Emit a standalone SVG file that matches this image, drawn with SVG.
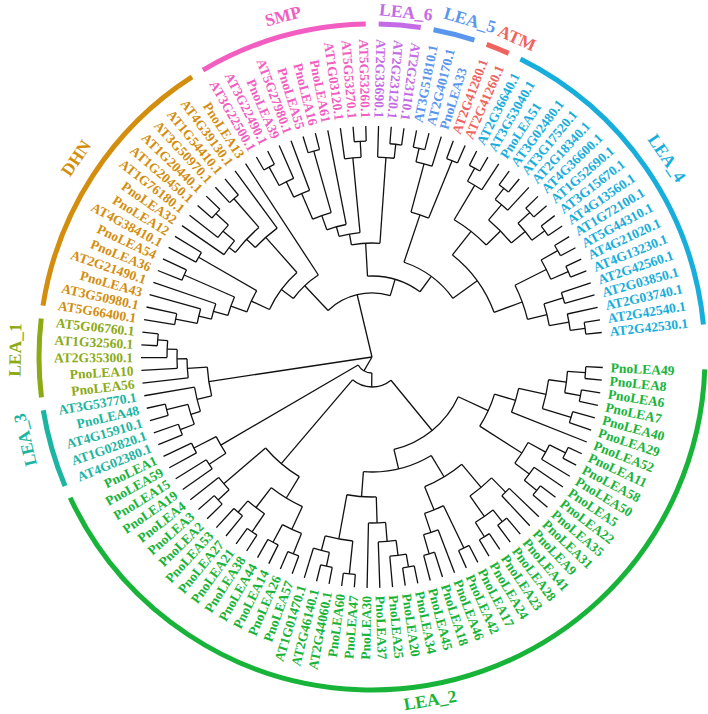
<svg xmlns="http://www.w3.org/2000/svg" width="708" height="714" viewBox="0 0 708 714">
<style>
.t line,.t circle{fill:none;stroke:#111;stroke-width:1.3;transform:rotate(calc(var(--a)*3.165deg))}
.k circle{fill:none;stroke-width:5;transform:rotate(calc(var(--a)*3.165deg))}
.lb text{font:bold 13.5px "Liberation Serif",serif;dominant-baseline:central;transform:rotate(calc(var(--a)*3.165deg))}
.lb text.f{text-anchor:end;transform:rotate(calc(var(--a)*3.165deg + 180deg))}
.cl{font:bold 17.5px "Liberation Serif",serif;text-anchor:middle;dominant-baseline:central}
</style>
<rect width="708" height="714" fill="#fff"/>
<g id="tree" class="t" transform="translate(372 357) rotate(2.6)">
<line x1="0" x2="64" style="--a:80.26"/><line x1="0" x2="165" style="--a:53.35"/><line x1="0" x2="16" style="--a:37.15"/>
<circle r="16" style="--a:27.79" stroke-dasharray="18.71 999" pathLength="113.744"/><line x1="16" x2="30" style="--a:27.79"/><line x1="16" x2="175" style="--a:46.5"/>
<circle r="30" style="--a:15.2" stroke-dasharray="25.18 999" pathLength="113.744"/><line x1="30" x2="95" style="--a:15.2"/><line x1="30" x2="140" style="--a:40.38"/>
<circle r="95" style="--a:7" stroke-dasharray="16.39 999" pathLength="113.744"/><line x1="95" x2="128" style="--a:7"/><line x1="95" x2="115" style="--a:23.39"/>
<circle r="128" style="--a:4.5" stroke-dasharray="5 999" pathLength="113.744"/><line x1="128" x2="150" style="--a:4.5"/><line x1="128" x2="178" style="--a:9.5"/>
<circle r="150" style="--a:3" stroke-dasharray="3 999" pathLength="113.744"/><line x1="150" x2="178" style="--a:3"/><line x1="150" x2="231" style="--a:6"/>
<circle r="178" style="--a:1.5" stroke-dasharray="3 999" pathLength="113.744"/><line x1="178" x2="196" style="--a:1.5"/><line x1="178" x2="208" style="--a:4.5"/>
<circle r="196" style="--a:0.5" stroke-dasharray="2 999" pathLength="113.744"/><line x1="196" x2="214" style="--a:0.5"/><line x1="196" x2="212" style="--a:2.5"/>
<circle r="214" style="--a:0" stroke-dasharray="1 999" pathLength="113.744"/><line x1="214" x2="231" style="--a:0"/><line x1="214" x2="231" style="--a:1"/>
<circle r="212" style="--a:2" stroke-dasharray="1 999" pathLength="113.744"/><line x1="212" x2="231" style="--a:2"/><line x1="212" x2="231" style="--a:3"/>
<circle r="208" style="--a:4" stroke-dasharray="1 999" pathLength="113.744"/><line x1="208" x2="231" style="--a:4"/><line x1="208" x2="231" style="--a:5"/>
<circle r="178" style="--a:8.25" stroke-dasharray="2.5 999" pathLength="113.744"/><line x1="178" x2="198" style="--a:8.25"/><line x1="178" x2="196" style="--a:10.75"/>
<circle r="198" style="--a:7.5" stroke-dasharray="1.5 999" pathLength="113.744"/><line x1="198" x2="216" style="--a:7.5"/><line x1="198" x2="231" style="--a:9"/>
<circle r="216" style="--a:7" stroke-dasharray="1 999" pathLength="113.744"/><line x1="216" x2="231" style="--a:7"/><line x1="216" x2="231" style="--a:8"/>
<circle r="196" style="--a:10" stroke-dasharray="1.5 999" pathLength="113.744"/><line x1="196" x2="231" style="--a:10"/><line x1="196" x2="212" style="--a:11.5"/>
<circle r="212" style="--a:11" stroke-dasharray="1 999" pathLength="113.744"/><line x1="212" x2="231" style="--a:11"/><line x1="212" x2="231" style="--a:12"/>
<circle r="115" style="--a:17.81" stroke-dasharray="11.16 999" pathLength="113.744"/><line x1="115" x2="140" style="--a:17.81"/><line x1="115" x2="140" style="--a:28.97"/>
<circle r="140" style="--a:15" stroke-dasharray="5.63 999" pathLength="113.744"/><line x1="140" x2="170" style="--a:15"/><line x1="140" x2="165" style="--a:20.63"/>
<circle r="170" style="--a:13.5" stroke-dasharray="3 999" pathLength="113.744"/><line x1="170" x2="190" style="--a:13.5"/><line x1="170" x2="195" style="--a:16.5"/>
<circle r="190" style="--a:13" stroke-dasharray="1 999" pathLength="113.744"/><line x1="190" x2="231" style="--a:13"/><line x1="190" x2="231" style="--a:14"/>
<circle r="195" style="--a:15.5" stroke-dasharray="2 999" pathLength="113.744"/><line x1="195" x2="210" style="--a:15.5"/><line x1="195" x2="212" style="--a:17.5"/>
<circle r="210" style="--a:15" stroke-dasharray="1 999" pathLength="113.744"/><line x1="210" x2="231" style="--a:15"/><line x1="210" x2="231" style="--a:16"/>
<circle r="212" style="--a:17" stroke-dasharray="1 999" pathLength="113.744"/><line x1="212" x2="231" style="--a:17"/><line x1="212" x2="231" style="--a:18"/>
<circle r="165" style="--a:19.5" stroke-dasharray="2.25 999" pathLength="113.744"/><line x1="165" x2="212" style="--a:19.5"/><line x1="165" x2="185" style="--a:21.75"/>
<circle r="212" style="--a:19" stroke-dasharray="1 999" pathLength="113.744"/><line x1="212" x2="231" style="--a:19"/><line x1="212" x2="231" style="--a:20"/>
<circle r="185" style="--a:21" stroke-dasharray="1.5 999" pathLength="113.744"/><line x1="185" x2="231" style="--a:21"/><line x1="185" x2="205" style="--a:22.5"/>
<circle r="205" style="--a:22" stroke-dasharray="1 999" pathLength="113.744"/><line x1="205" x2="231" style="--a:22"/><line x1="205" x2="231" style="--a:23"/>
<circle r="140" style="--a:27.06" stroke-dasharray="3.82 999" pathLength="113.744"/><line x1="140" x2="166" style="--a:27.06"/><line x1="140" x2="185" style="--a:30.88"/>
<circle r="166" style="--a:26.13" stroke-dasharray="1.87 999" pathLength="113.744"/><line x1="166" x2="185" style="--a:26.13"/><line x1="166" x2="231" style="--a:28"/>
<circle r="185" style="--a:25.25" stroke-dasharray="1.75 999" pathLength="113.744"/><line x1="185" x2="200" style="--a:25.25"/><line x1="185" x2="231" style="--a:27"/>
<circle r="200" style="--a:24.5" stroke-dasharray="1.5 999" pathLength="113.744"/><line x1="200" x2="213" style="--a:24.5"/><line x1="200" x2="231" style="--a:26"/>
<circle r="213" style="--a:24" stroke-dasharray="1 999" pathLength="113.744"/><line x1="213" x2="231" style="--a:24"/><line x1="213" x2="231" style="--a:25"/>
<circle r="185" style="--a:29.5" stroke-dasharray="2.75 999" pathLength="113.744"/><line x1="185" x2="218" style="--a:29.5"/><line x1="185" x2="200" style="--a:32.25"/>
<circle r="218" style="--a:29" stroke-dasharray="1 999" pathLength="113.744"/><line x1="218" x2="231" style="--a:29"/><line x1="218" x2="231" style="--a:30"/>
<circle r="200" style="--a:31.5" stroke-dasharray="1.5 999" pathLength="113.744"/><line x1="200" x2="214" style="--a:31.5"/><line x1="200" x2="231" style="--a:33"/>
<circle r="214" style="--a:31" stroke-dasharray="1 999" pathLength="113.744"/><line x1="214" x2="231" style="--a:31"/><line x1="214" x2="231" style="--a:32"/>
<circle r="140" style="--a:37.5" stroke-dasharray="5.75 999" pathLength="113.744"/><line x1="140" x2="165" style="--a:37.5"/><line x1="140" x2="195" style="--a:43.25"/>
<circle r="165" style="--a:35.5" stroke-dasharray="4 999" pathLength="113.744"/><line x1="165" x2="190" style="--a:35.5"/><line x1="165" x2="190" style="--a:39.5"/>
<circle r="190" style="--a:34.5" stroke-dasharray="2 999" pathLength="113.744"/><line x1="190" x2="212" style="--a:34.5"/><line x1="190" x2="210" style="--a:36.5"/>
<circle r="212" style="--a:34" stroke-dasharray="1 999" pathLength="113.744"/><line x1="212" x2="231" style="--a:34"/><line x1="212" x2="231" style="--a:35"/>
<circle r="210" style="--a:36" stroke-dasharray="1 999" pathLength="113.744"/><line x1="210" x2="231" style="--a:36"/><line x1="210" x2="231" style="--a:37"/>
<circle r="190" style="--a:38.5" stroke-dasharray="2 999" pathLength="113.744"/><line x1="190" x2="212" style="--a:38.5"/><line x1="190" x2="205" style="--a:40.5"/>
<circle r="212" style="--a:38" stroke-dasharray="1 999" pathLength="113.744"/><line x1="212" x2="231" style="--a:38"/><line x1="212" x2="231" style="--a:39"/>
<circle r="205" style="--a:40" stroke-dasharray="1 999" pathLength="113.744"/><line x1="205" x2="231" style="--a:40"/><line x1="205" x2="231" style="--a:41"/>
<circle r="195" style="--a:42.5" stroke-dasharray="1.5 999" pathLength="113.744"/><line x1="195" x2="210" style="--a:42.5"/><line x1="195" x2="231" style="--a:44"/>
<circle r="210" style="--a:42" stroke-dasharray="1 999" pathLength="113.744"/><line x1="210" x2="231" style="--a:42"/><line x1="210" x2="231" style="--a:43"/>
<circle r="175" style="--a:45.5" stroke-dasharray="2 999" pathLength="113.744"/><line x1="175" x2="195" style="--a:45.5"/><line x1="175" x2="200" style="--a:47.5"/>
<circle r="195" style="--a:45" stroke-dasharray="1 999" pathLength="113.744"/><line x1="195" x2="231" style="--a:45"/><line x1="195" x2="231" style="--a:46"/>
<circle r="200" style="--a:47" stroke-dasharray="1 999" pathLength="113.744"/><line x1="200" x2="231" style="--a:47"/><line x1="200" x2="231" style="--a:48"/>
<circle r="165" style="--a:51.75" stroke-dasharray="3.19 999" pathLength="113.744"/><line x1="165" x2="180" style="--a:51.75"/><line x1="165" x2="185" style="--a:54.94"/>
<circle r="180" style="--a:50.5" stroke-dasharray="2.5 999" pathLength="113.744"/><line x1="180" x2="190" style="--a:50.5"/><line x1="180" x2="231" style="--a:53"/>
<circle r="190" style="--a:49.5" stroke-dasharray="2 999" pathLength="113.744"/><line x1="190" x2="205" style="--a:49.5"/><line x1="190" x2="212" style="--a:51.5"/>
<circle r="205" style="--a:49" stroke-dasharray="1 999" pathLength="113.744"/><line x1="205" x2="231" style="--a:49"/><line x1="205" x2="231" style="--a:50"/>
<circle r="212" style="--a:51" stroke-dasharray="1 999" pathLength="113.744"/><line x1="212" x2="231" style="--a:51"/><line x1="212" x2="231" style="--a:52"/>
<circle r="185" style="--a:54" stroke-dasharray="1.88 999" pathLength="113.744"/><line x1="185" x2="231" style="--a:54"/><line x1="185" x2="195" style="--a:55.88"/>
<circle r="195" style="--a:55" stroke-dasharray="1.75 999" pathLength="113.744"/><line x1="195" x2="231" style="--a:55"/><line x1="195" x2="205" style="--a:56.75"/>
<circle r="205" style="--a:56" stroke-dasharray="1.5 999" pathLength="113.744"/><line x1="205" x2="231" style="--a:56"/><line x1="205" x2="215" style="--a:57.5"/>
<circle r="215" style="--a:57" stroke-dasharray="1 999" pathLength="113.744"/><line x1="215" x2="231" style="--a:57"/><line x1="215" x2="231" style="--a:58"/>
<circle r="64" style="--a:70.8" stroke-dasharray="18.92 999" pathLength="113.744"/><line x1="64" x2="98" style="--a:70.8"/><line x1="64" x2="81" style="--a:89.72"/>
<circle r="98" style="--a:67.63" stroke-dasharray="6.37 999" pathLength="113.744"/><line x1="98" x2="113" style="--a:67.63"/><line x1="98" x2="231" style="--a:74"/>
<circle r="113" style="--a:63.91" stroke-dasharray="7.43 999" pathLength="113.744"/><line x1="113" x2="133" style="--a:63.91"/><line x1="113" x2="160" style="--a:71.34"/>
<circle r="133" style="--a:62.31" stroke-dasharray="3.19 999" pathLength="113.744"/><line x1="133" x2="150" style="--a:62.31"/><line x1="133" x2="200" style="--a:65.5"/>
<circle r="150" style="--a:61.13" stroke-dasharray="2.37 999" pathLength="113.744"/><line x1="150" x2="165" style="--a:61.13"/><line x1="150" x2="205" style="--a:63.5"/>
<circle r="165" style="--a:60.25" stroke-dasharray="1.75 999" pathLength="113.744"/><line x1="165" x2="178" style="--a:60.25"/><line x1="165" x2="231" style="--a:62"/>
<circle r="178" style="--a:59.5" stroke-dasharray="1.5 999" pathLength="113.744"/><line x1="178" x2="200" style="--a:59.5"/><line x1="178" x2="231" style="--a:61"/>
<circle r="200" style="--a:59" stroke-dasharray="1 999" pathLength="113.744"/><line x1="200" x2="231" style="--a:59"/><line x1="200" x2="231" style="--a:60"/>
<circle r="205" style="--a:63" stroke-dasharray="1 999" pathLength="113.744"/><line x1="205" x2="231" style="--a:63"/><line x1="205" x2="231" style="--a:64"/>
<circle r="200" style="--a:65" stroke-dasharray="1 999" pathLength="113.744"/><line x1="200" x2="231" style="--a:65"/><line x1="200" x2="231" style="--a:66"/>
<circle r="160" style="--a:69.69" stroke-dasharray="3.31 999" pathLength="113.744"/><line x1="160" x2="172" style="--a:69.69"/><line x1="160" x2="231" style="--a:73"/>
<circle r="172" style="--a:67.88" stroke-dasharray="3.62 999" pathLength="113.744"/><line x1="172" x2="180" style="--a:67.88"/><line x1="172" x2="210" style="--a:71.5"/>
<circle r="180" style="--a:67" stroke-dasharray="1.75 999" pathLength="113.744"/><line x1="180" x2="231" style="--a:67"/><line x1="180" x2="195" style="--a:68.75"/>
<circle r="195" style="--a:68" stroke-dasharray="1.5 999" pathLength="113.744"/><line x1="195" x2="231" style="--a:68"/><line x1="195" x2="212" style="--a:69.5"/>
<circle r="212" style="--a:69" stroke-dasharray="1 999" pathLength="113.744"/><line x1="212" x2="231" style="--a:69"/><line x1="212" x2="231" style="--a:70"/>
<circle r="210" style="--a:71" stroke-dasharray="1 999" pathLength="113.744"/><line x1="210" x2="231" style="--a:71"/><line x1="210" x2="231" style="--a:72"/>
<circle r="81" style="--a:83.48" stroke-dasharray="12.49 999" pathLength="113.744"/><line x1="81" x2="114" style="--a:83.48"/><line x1="81" x2="100" style="--a:95.97"/>
<circle r="114" style="--a:81.2" stroke-dasharray="4.55 999" pathLength="113.744"/><line x1="114" x2="125" style="--a:81.2"/><line x1="114" x2="200" style="--a:85.75"/>
<circle r="125" style="--a:79.66" stroke-dasharray="3.09 999" pathLength="113.744"/><line x1="125" x2="135" style="--a:79.66"/><line x1="125" x2="200" style="--a:82.75"/>
<circle r="135" style="--a:78.31" stroke-dasharray="2.69 999" pathLength="113.744"/><line x1="135" x2="150" style="--a:78.31"/><line x1="135" x2="231" style="--a:81"/>
<circle r="150" style="--a:77.13" stroke-dasharray="2.37 999" pathLength="113.744"/><line x1="150" x2="178" style="--a:77.13"/><line x1="150" x2="214" style="--a:79.5"/>
<circle r="178" style="--a:76.25" stroke-dasharray="1.75 999" pathLength="113.744"/><line x1="178" x2="195" style="--a:76.25"/><line x1="178" x2="231" style="--a:78"/>
<circle r="195" style="--a:75.5" stroke-dasharray="1.5 999" pathLength="113.744"/><line x1="195" x2="216" style="--a:75.5"/><line x1="195" x2="231" style="--a:77"/>
<circle r="216" style="--a:75" stroke-dasharray="1 999" pathLength="113.744"/><line x1="216" x2="231" style="--a:75"/><line x1="216" x2="231" style="--a:76"/>
<circle r="214" style="--a:79" stroke-dasharray="1 999" pathLength="113.744"/><line x1="214" x2="231" style="--a:79"/><line x1="214" x2="231" style="--a:80"/>
<circle r="200" style="--a:82" stroke-dasharray="1.5 999" pathLength="113.744"/><line x1="200" x2="231" style="--a:82"/><line x1="200" x2="216" style="--a:83.5"/>
<circle r="216" style="--a:83" stroke-dasharray="1 999" pathLength="113.744"/><line x1="216" x2="231" style="--a:83"/><line x1="216" x2="231" style="--a:84"/>
<circle r="200" style="--a:85" stroke-dasharray="1.5 999" pathLength="113.744"/><line x1="200" x2="231" style="--a:85"/><line x1="200" x2="214" style="--a:86.5"/>
<circle r="214" style="--a:86" stroke-dasharray="1 999" pathLength="113.744"/><line x1="214" x2="231" style="--a:86"/><line x1="214" x2="231" style="--a:87"/>
<circle r="100" style="--a:90.38" stroke-dasharray="11.19 999" pathLength="113.744"/><line x1="100" x2="150" style="--a:90.38"/><line x1="100" x2="130" style="--a:101.57"/>
<circle r="150" style="--a:89.25" stroke-dasharray="2.25 999" pathLength="113.744"/><line x1="150" x2="200" style="--a:89.25"/><line x1="150" x2="212" style="--a:91.5"/>
<circle r="200" style="--a:88.5" stroke-dasharray="1.5 999" pathLength="113.744"/><line x1="200" x2="214" style="--a:88.5"/><line x1="200" x2="231" style="--a:90"/>
<circle r="214" style="--a:88" stroke-dasharray="1 999" pathLength="113.744"/><line x1="214" x2="231" style="--a:88"/><line x1="214" x2="231" style="--a:89"/>
<circle r="212" style="--a:91" stroke-dasharray="1 999" pathLength="113.744"/><line x1="212" x2="231" style="--a:91"/><line x1="212" x2="231" style="--a:92"/>
<circle r="130" style="--a:96.57" stroke-dasharray="10 999" pathLength="113.744"/><line x1="130" x2="160" style="--a:96.57"/><line x1="130" x2="160" style="--a:106.57"/>
<circle r="160" style="--a:94.25" stroke-dasharray="4.63 999" pathLength="113.744"/><line x1="160" x2="200" style="--a:94.25"/><line x1="160" x2="180" style="--a:98.88"/>
<circle r="200" style="--a:93.5" stroke-dasharray="1.5 999" pathLength="113.744"/><line x1="200" x2="215" style="--a:93.5"/><line x1="200" x2="231" style="--a:95"/>
<circle r="215" style="--a:93" stroke-dasharray="1 999" pathLength="113.744"/><line x1="215" x2="231" style="--a:93"/><line x1="215" x2="231" style="--a:94"/>
<circle r="180" style="--a:97.25" stroke-dasharray="3.25 999" pathLength="113.744"/><line x1="180" x2="200" style="--a:97.25"/><line x1="180" x2="198" style="--a:100.5"/>
<circle r="200" style="--a:96.5" stroke-dasharray="1.5 999" pathLength="113.744"/><line x1="200" x2="214" style="--a:96.5"/><line x1="200" x2="231" style="--a:98"/>
<circle r="214" style="--a:96" stroke-dasharray="1 999" pathLength="113.744"/><line x1="214" x2="231" style="--a:96"/><line x1="214" x2="231" style="--a:97"/>
<circle r="198" style="--a:99.5" stroke-dasharray="2 999" pathLength="113.744"/><line x1="198" x2="214" style="--a:99.5"/><line x1="198" x2="214" style="--a:101.5"/>
<circle r="214" style="--a:99" stroke-dasharray="1 999" pathLength="113.744"/><line x1="214" x2="231" style="--a:99"/><line x1="214" x2="231" style="--a:100"/>
<circle r="214" style="--a:101" stroke-dasharray="1 999" pathLength="113.744"/><line x1="214" x2="231" style="--a:101"/><line x1="214" x2="231" style="--a:102"/>
<circle r="160" style="--a:104.5" stroke-dasharray="4.13 999" pathLength="113.744"/><line x1="160" x2="195" style="--a:104.5"/><line x1="160" x2="180" style="--a:108.63"/>
<circle r="195" style="--a:103.5" stroke-dasharray="2 999" pathLength="113.744"/><line x1="195" x2="214" style="--a:103.5"/><line x1="195" x2="214" style="--a:105.5"/>
<circle r="214" style="--a:103" stroke-dasharray="1 999" pathLength="113.744"/><line x1="214" x2="231" style="--a:103"/><line x1="214" x2="231" style="--a:104"/>
<circle r="214" style="--a:105" stroke-dasharray="1 999" pathLength="113.744"/><line x1="214" x2="231" style="--a:105"/><line x1="214" x2="231" style="--a:106"/>
<circle r="180" style="--a:107.5" stroke-dasharray="2.25 999" pathLength="113.744"/><line x1="180" x2="200" style="--a:107.5"/><line x1="180" x2="200" style="--a:109.75"/>
<circle r="200" style="--a:107" stroke-dasharray="1 999" pathLength="113.744"/><line x1="200" x2="231" style="--a:107"/><line x1="200" x2="231" style="--a:108"/>
<circle r="200" style="--a:109" stroke-dasharray="1.5 999" pathLength="113.744"/><line x1="200" x2="231" style="--a:109"/><line x1="200" x2="215" style="--a:110.5"/>
<circle r="215" style="--a:110" stroke-dasharray="1 999" pathLength="113.744"/><line x1="215" x2="231" style="--a:110"/><line x1="215" x2="231" style="--a:111"/>
</g>
<g id="clade-arcs" class="k" transform="translate(372 357) rotate(2.6)">
<circle r="333" pathLength="113.744" stroke="#18B43A" stroke-dasharray="48.3 999" style="--a:-0.15"/>
<circle r="333" pathLength="113.744" stroke="#1CB5A2" stroke-dasharray="4.3 999" style="--a:48.85"/>
<circle r="333" pathLength="113.744" stroke="#8BAA14" stroke-dasharray="4.3 999" style="--a:53.85"/>
<circle r="333" pathLength="113.744" stroke="#D38E0E" stroke-dasharray="15.3 999" style="--a:58.85"/>
<circle r="333" pathLength="113.744" stroke="#F25DC2" stroke-dasharray="9.3 999" style="--a:74.85"/>
<circle r="333" pathLength="113.744" stroke="#C56AE6" stroke-dasharray="2.3 999" style="--a:84.85"/>
<circle r="333" pathLength="113.744" stroke="#5A97EC" stroke-dasharray="2.3 999" style="--a:87.85"/>
<circle r="333" pathLength="113.744" stroke="#F0645F" stroke-dasharray="1.3 999" style="--a:90.85"/>
<circle r="333" pathLength="113.744" stroke="#17AEDB" stroke-dasharray="18.3 999" style="--a:92.85"/>
</g>
<g id="LEA_2" class="lb" fill="#18B43A" transform="translate(372 357) rotate(2.6)">
<text x="239" style="--a:0">PnoLEA49</text><text x="239" style="--a:1">PnoLEA8</text><text x="239" style="--a:2">PnoLEA6</text><text x="239" style="--a:3">PnoLEA7</text><text x="239" style="--a:4">PnoLEA40</text><text x="239" style="--a:5">PnoLEA29</text><text x="239" style="--a:6">PnoLEA52</text><text x="239" style="--a:7">PnoLEA11</text><text x="239" style="--a:8">PnoLEA58</text><text x="239" style="--a:9">PnoLEA50</text><text x="239" style="--a:10">PnoLEA5</text><text x="239" style="--a:11">PnoLEA22</text><text x="239" style="--a:12">PnoLEA35</text><text x="239" style="--a:13">PnoLEA31</text><text x="239" style="--a:14">PnoLEA9</text><text x="239" style="--a:15">PnoLEA41</text><text x="239" style="--a:16">PnoLEA28</text><text x="239" style="--a:17">PnoLEA23</text><text x="239" style="--a:18">PnoLEA24</text><text x="239" style="--a:19">PnoLEA17</text><text x="239" style="--a:20">PnoLEA42</text><text x="239" style="--a:21">PnoLEA46</text><text x="239" style="--a:22">PnoLEA18</text><text x="239" style="--a:23">PnoLEA45</text><text x="239" style="--a:24">PnoLEA34</text><text x="239" style="--a:25">PnoLEA20</text><text x="239" style="--a:26">PnoLEA25</text><text x="239" style="--a:27">PnoLEA37</text>
<text class="f" x="-239" style="--a:28">PnoLEA30</text><text class="f" x="-239" style="--a:29">PnoLEA47</text><text class="f" x="-239" style="--a:30">PnoLEA60</text><text class="f" x="-239" style="--a:31">AT2G44060.1</text><text class="f" x="-239" style="--a:32">AT2G46140.1</text><text class="f" x="-239" style="--a:33">AT1G01470.1</text><text class="f" x="-239" style="--a:34">PnoLEA57</text><text class="f" x="-239" style="--a:35">PnoLEA26</text><text class="f" x="-239" style="--a:36">PnoLEA14</text><text class="f" x="-239" style="--a:37">PnoLEA44</text><text class="f" x="-239" style="--a:38">PnoLEA38</text><text class="f" x="-239" style="--a:39">PnoLEA21</text><text class="f" x="-239" style="--a:40">PnoLEA27</text><text class="f" x="-239" style="--a:41">PnoLEA53</text><text class="f" x="-239" style="--a:42">PnoLEA2</text><text class="f" x="-239" style="--a:43">PnoLEA3</text><text class="f" x="-239" style="--a:44">PnoLEA4</text><text class="f" x="-239" style="--a:45">PnoLEA19</text><text class="f" x="-239" style="--a:46">PnoLEA15</text><text class="f" x="-239" style="--a:47">PnoLEA59</text><text class="f" x="-239" style="--a:48">PnoLEA1</text>
</g>
<g id="LEA_3" class="lb" fill="#1CB5A2" transform="translate(372 357) rotate(2.6)">
<text class="f" x="-239" style="--a:49">AT4G02380.1</text><text class="f" x="-239" style="--a:50">AT1G02820.1</text><text class="f" x="-239" style="--a:51">AT4G15910.1</text><text class="f" x="-239" style="--a:52">PnoLEA48</text><text class="f" x="-239" style="--a:53">AT3G53770.1</text>
</g>
<g id="LEA_1" class="lb" fill="#8BAA14" transform="translate(372 357) rotate(2.6)">
<text class="f" x="-239" style="--a:54">PnoLEA56</text><text class="f" x="-239" style="--a:55">PnoLEA10</text><text class="f" x="-239" style="--a:56">AT2G35300.1</text><text class="f" x="-239" style="--a:57">AT1G32560.1</text><text class="f" x="-239" style="--a:58">AT5G06760.1</text>
</g>
<g id="DHN" class="lb" fill="#D38E0E" transform="translate(372 357) rotate(2.6)">
<text class="f" x="-239" style="--a:59">AT5G66400.1</text><text class="f" x="-239" style="--a:60">AT3G50980.1</text><text class="f" x="-239" style="--a:61">PnoLEA43</text><text class="f" x="-239" style="--a:62">AT2G21490.1</text><text class="f" x="-239" style="--a:63">PnoLEA36</text><text class="f" x="-239" style="--a:64">PnoLEA54</text><text class="f" x="-239" style="--a:65">AT4G38410.1</text><text class="f" x="-239" style="--a:66">PnoLEA12</text><text class="f" x="-239" style="--a:67">PnoLEA32</text><text class="f" x="-239" style="--a:68">AT1G76180.1</text><text class="f" x="-239" style="--a:69">AT1G20450.1</text><text class="f" x="-239" style="--a:70">AT1G20440.1</text><text class="f" x="-239" style="--a:71">AT3G50970.1</text><text class="f" x="-239" style="--a:72">AT1G54410.1</text><text class="f" x="-239" style="--a:73">AT4G39130.1</text><text class="f" x="-239" style="--a:74">PnoLEA13</text>
</g>
<g id="SMP" class="lb" fill="#F25DC2" transform="translate(372 357) rotate(2.6)">
<text class="f" x="-239" style="--a:75">AT3G22500.1</text><text class="f" x="-239" style="--a:76">AT3G22490.1</text><text class="f" x="-239" style="--a:77">PnoLEA39</text><text class="f" x="-239" style="--a:78">AT5G27980.1</text><text class="f" x="-239" style="--a:79">PnoLEA55</text><text class="f" x="-239" style="--a:80">PnoLEA16</text><text class="f" x="-239" style="--a:81">PnoLEA61</text><text class="f" x="-239" style="--a:82">AT1G03120.1</text><text class="f" x="-239" style="--a:83">AT5G53270.1</text><text class="f" x="-239" style="--a:84">AT5G53260.1</text>
</g>
<g id="LEA_6" class="lb" fill="#C56AE6" transform="translate(372 357) rotate(2.6)">
<text class="f" x="-239" style="--a:85">AT2G33690.1</text><text class="f" x="-239" style="--a:86">AT2G23120.1</text><text class="f" x="-239" style="--a:87">AT2G23110.1</text>
</g>
<g id="LEA_5" class="lb" fill="#5A97EC" transform="translate(372 357) rotate(2.6)">
<text x="239" style="--a:88">AT3G51810.1</text><text x="239" style="--a:89">AT2G40170.1</text><text x="239" style="--a:90">PnoLEA33</text>
</g>
<g id="ATM" class="lb" fill="#F0645F" transform="translate(372 357) rotate(2.6)">
<text x="239" style="--a:91">AT2G41280.1</text><text x="239" style="--a:92">AT2G41260.1</text>
</g>
<g id="LEA_4" class="lb" fill="#17AEDB" transform="translate(372 357) rotate(2.6)">
<text x="239" style="--a:93">AT2G36640.1</text><text x="239" style="--a:94">AT3G53040.1</text><text x="239" style="--a:95">PnoLEA51</text><text x="239" style="--a:96">AT3G02480.1</text><text x="239" style="--a:97">AT3G17520.1</text><text x="239" style="--a:98">AT2G18340.1</text><text x="239" style="--a:99">AT4G36600.1</text><text x="239" style="--a:100">AT1G52690.1</text><text x="239" style="--a:101">AT3G15670.1</text><text x="239" style="--a:102">AT4G13560.1</text><text x="239" style="--a:103">AT1G72100.1</text><text x="239" style="--a:104">AT5G44310.1</text><text x="239" style="--a:105">AT4G21020.1</text><text x="239" style="--a:106">AT4G13230.1</text><text x="239" style="--a:107">AT2G42560.1</text><text x="239" style="--a:108">AT2G03850.1</text><text x="239" style="--a:109">AT2G03740.1</text><text x="239" style="--a:110">AT2G42540.1</text><text x="239" style="--a:111">AT2G42530.1</text>
</g>
<g id="clade-labels" class="cl">
<text fill="#F25DC2" transform="translate(283 16) rotate(-14.6)">SMP</text>
<text fill="#C56AE6" transform="translate(406 12) rotate(5.6)">LEA_6</text>
<text fill="#5A97EC" transform="translate(470 20) rotate(16.2)">LEA_5</text>
<text fill="#F0645F" transform="translate(517 38) rotate(24.4)">ATM</text>
<text fill="#17AEDB" transform="translate(667 158) rotate(56)">LEA_4</text>
<text fill="#D38E0E" transform="translate(76 158) rotate(-56)">DHN</text>
<text fill="#8BAA14" transform="translate(15 350) rotate(-89)">LEA_1</text>
<text fill="#1CB5A2" transform="translate(25 440) rotate(-103.5)">LEA_3</text>
<text fill="#18B43A" transform="translate(430 700) rotate(-9.6)">LEA_2</text>
</g>
</svg>
